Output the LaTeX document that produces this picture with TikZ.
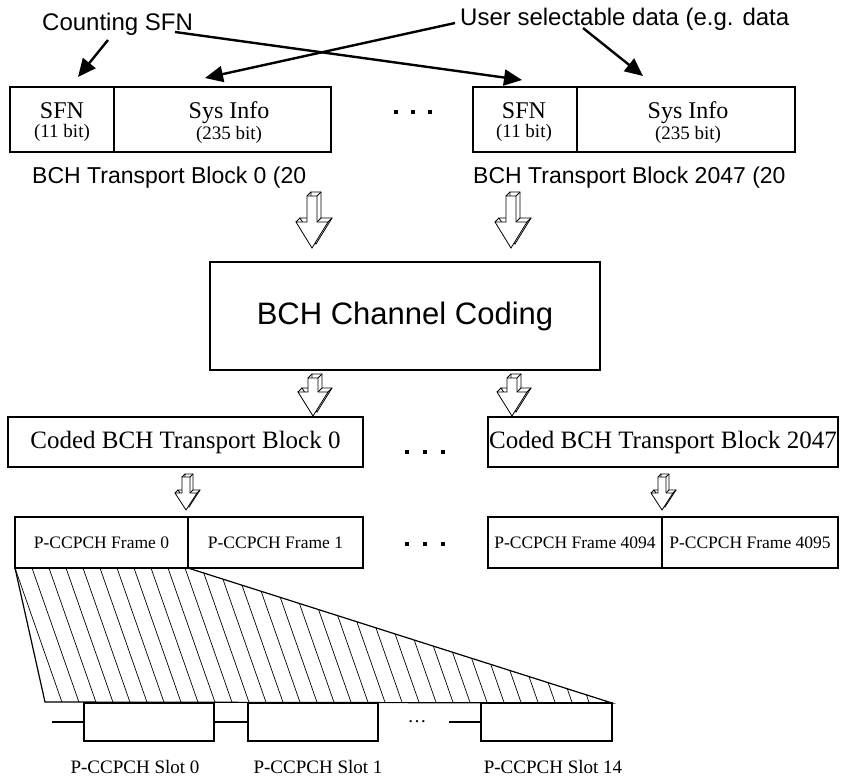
\documentclass[tikz,border=0pt]{standalone}
\usepackage{fontspec}
\setmainfont{Liberation Serif}
\newfontfamily\sansf{Liberation Sans}
\usetikzlibrary{arrows.meta}
% hollow 3D block arrow: cx, ytop, yheadbase, ytip, shaft half width, head half width, extrusion
\newcommand\hollowarrow[7]{%
  \draw[fill=white,line width=0.8pt]
    (#1-#5+#7,#2-#7) -- (#1+#5+#7,#2-#7) -- (#1+#5+#7,#3-#7) -- (#1+#6+#7,#3-#7)
    -- (#1+#7,#4-#7) -- (#1-#6+#7,#3-#7) -- (#1-#5+#7,#3-#7) -- cycle;
  \draw[line width=0.8pt] (#1-#5,#2) -- ++(#7,-#7);
  \draw[line width=0.8pt] (#1+#5,#2) -- ++(#7,-#7);
  \draw[line width=0.8pt] (#1+#5,#3) -- ++(#7,-#7);
  \draw[line width=0.8pt] (#1-#6,#3) -- ++(#7,-#7);
  \draw[line width=0.8pt] (#1+#6,#3) -- ++(#7,-#7);
  \draw[fill=white,line width=0.8pt]
    (#1-#5,#2) -- (#1+#5,#2) -- (#1+#5,#3) -- (#1+#6,#3) -- (#1,#4)
    -- (#1-#6,#3) -- (#1-#5,#3) -- cycle;
}
\begin{document}
\begin{tikzpicture}[x=1pt,y=-1pt,
  box/.style={draw,line width=1.3pt,inner sep=0pt,outer sep=0pt},
  fbox/.style={draw,line width=1.1pt,inner sep=0pt,outer sep=0pt,minimum height=51pt},
  sanslab/.style={font=\sansf\fontsize{24}{28}\selectfont,inner sep=0pt},
  tblab/.style={font=\sansf\fontsize{23}{27}\selectfont,inner sep=0pt},
  bigser/.style={font=\fontsize{24}{27}\selectfont,inner sep=0pt},
  smallser/.style={font=\fontsize{19}{22}\selectfont,inner sep=0pt},
  codedser/.style={font=\fontsize{25}{29}\selectfont,inner sep=0pt},
  frameser/.style={font=\fontsize{17.5}{20}\selectfont,inner sep=0pt},
  slotser/.style={font=\fontsize{19}{22}\selectfont,inner sep=0pt},
  conn/.style={line width=2.4pt,-{Triangle[length=18pt,width=16pt]}},
  dotsq/.style={fill=black,minimum size=4.5pt,inner sep=0pt,outer sep=0pt},
  stub/.style={line width=1.3pt}]
\useasboundingbox (0,0) rectangle (843,779);

% ---------- top labels ----------
\node[sanslab,anchor=base west] (cnt) at (42,30) {Counting SFN};
\node[sanslab,anchor=base west] (usr) at (460,25) {User selectable data (e.g. data};

% ---------- transport blocks ----------
\node[box,minimum width=104pt,minimum height=65pt] (sfnA) at (62,119.5) {};
\node[box,minimum width=217pt,minimum height=65pt] (sysA) at (222.5,119.5) {};
\node[box,minimum width=104pt,minimum height=65pt] (sfnB) at (525,119.5) {};
\node[box,minimum width=218pt,minimum height=65pt] (sysB) at (686,119.5) {};

\node[bigser,anchor=base] (tSfnA) at (62,118) {SFN};
\node[smallser,anchor=base] (tBitA) at (62,137) {(11 bit)};
\node[bigser,anchor=base] (tSysA) at (229,118) {Sys Info};
\node[smallser,anchor=base] (tBitA2) at (229,139) {(235 bit)};
\node[bigser,anchor=base] (tSfnB) at (524,118) {SFN};
\node[smallser,anchor=base] (tBitB) at (524,137) {(11 bit)};
\node[bigser,anchor=base] (tSysB) at (688,118) {Sys Info};
\node[smallser,anchor=base] (tBitB2) at (688,139) {(235 bit)};

\node[dotsq] (d1) at (396,112) {};
\node[dotsq] (d2) at (413,112) {};
\node[dotsq] (d3) at (430,112) {};

\node[tblab,anchor=base west] (tbA) at (32,183) {BCH Transport Block 0 (20};
\node[tblab,anchor=base west] (tbB) at (473,183) {BCH Transport Block 2047 (20};

% ---------- connectors ----------
\coordinate (cntA) at (108,40);
\coordinate (cntAe) at (78,77);
\coordinate (cntB) at (175,32);
\coordinate (cntBe) at (522,80);
\coordinate (usrA) at (455,23);
\coordinate (usrAe) at (205,78);
\coordinate (usrB) at (583,28);
\coordinate (usrBe) at (643,76);
\draw[conn] (cntA) -- (cntAe);
\draw[conn] (cntB) -- (cntBe);
\draw[conn] (usrA) -- (usrAe);
\draw[conn] (usrB) -- (usrBe);

% ---------- channel coding ----------
\hollowarrow{312}{196}{222}{248}{5}{16}{4}
\hollowarrow{511}{196}{222}{248}{5}{16}{4}
\node[box,minimum width=390pt,minimum height=108pt,font=\sansf\fontsize{31}{36}\selectfont] (bch) at (405,316) {BCH Channel Coding};
\hollowarrow{313}{378}{392}{416}{5}{15}{4}
\hollowarrow{512}{378}{392}{416}{5}{15}{4}

% ---------- coded blocks ----------
\node[box,minimum width=355pt,minimum height=50pt,codedser] (cbA) at (185.5,442) {Coded BCH Transport Block 0};
\node[box,minimum width=350pt,minimum height=50pt,codedser] (cbB) at (663,442) {Coded BCH Transport Block 2047};
\node[dotsq] (d4) at (407,452) {};
\node[dotsq] (d5) at (425,452) {};
\node[dotsq] (d6) at (443,452) {};

\hollowarrow{186}{477}{493}{510}{4}{11}{3}
\hollowarrow{662}{477}{493}{510}{4}{11}{3}

% ---------- frames ----------
\node[fbox,minimum width=173pt,frameser] (fA0) at (101.5,542.5) {P-CCPCH Frame 0};
\node[fbox,minimum width=175pt,frameser] (fA1) at (275.5,542.5) {P-CCPCH Frame 1};
\node[fbox,minimum width=174pt,frameser] (fB0) at (575,542.5) {P-CCPCH Frame 4094};
\node[fbox,minimum width=176pt,frameser] (fB1) at (750,542.5) {P-CCPCH Frame 4095};
\draw[line width=2pt] (fA0.north east) -- (fA0.south east);
\draw[line width=1.6pt] (fB0.north east) -- (fB0.south east);
\node[dotsq] (d7) at (407,544) {};
\node[dotsq] (d8) at (425,544) {};
\node[dotsq] (d9) at (443,544) {};

% ---------- slots ----------
\node[box,line width=1.1pt,minimum width=130pt,minimum height=38pt] (s0) at (149,722) {};
\node[box,line width=1.1pt,minimum width=130pt,minimum height=38pt] (s1) at (313,722) {};
\node[box,line width=1.1pt,minimum width=131pt,minimum height=38pt] (s14) at (546.5,722) {};
\coordinate (st0) at (52,722);
\coordinate (st14) at (449,722);
\draw[stub] (st0) -- (s0.west);
\draw[stub] (s0.east) -- (s1.west);
\draw[stub] (st14) -- (s14.west);
\node[slotser] (ell) at (417,722) {\dots};

\node[slotser,anchor=base] (ls0) at (135,773) {P-CCPCH Slot 0};
\node[slotser,anchor=base] (ls1) at (318,773) {P-CCPCH Slot 1};
\node[slotser,anchor=base] (ls14) at (553,773) {P-CCPCH Slot 14};

% ---------- hatched trapezoid ----------
\coordinate (tzBL) at (45,702);
\begin{scope}
  \clip (fA0.south west) -- (fA0.south east) -- (s14.north east) -- (tzBL) -- cycle;
  \foreach \k in {-4,...,38}{
    \draw[line width=0.7pt] ({15+17*\k-3.5},558) -- ({15+17*\k+50.4},712);
  }
\end{scope}
\draw[line width=1.2pt] (fA0.south west) -- (tzBL) -- (s14.north east) -- (fA0.south east);
\end{tikzpicture}
\end{document}
